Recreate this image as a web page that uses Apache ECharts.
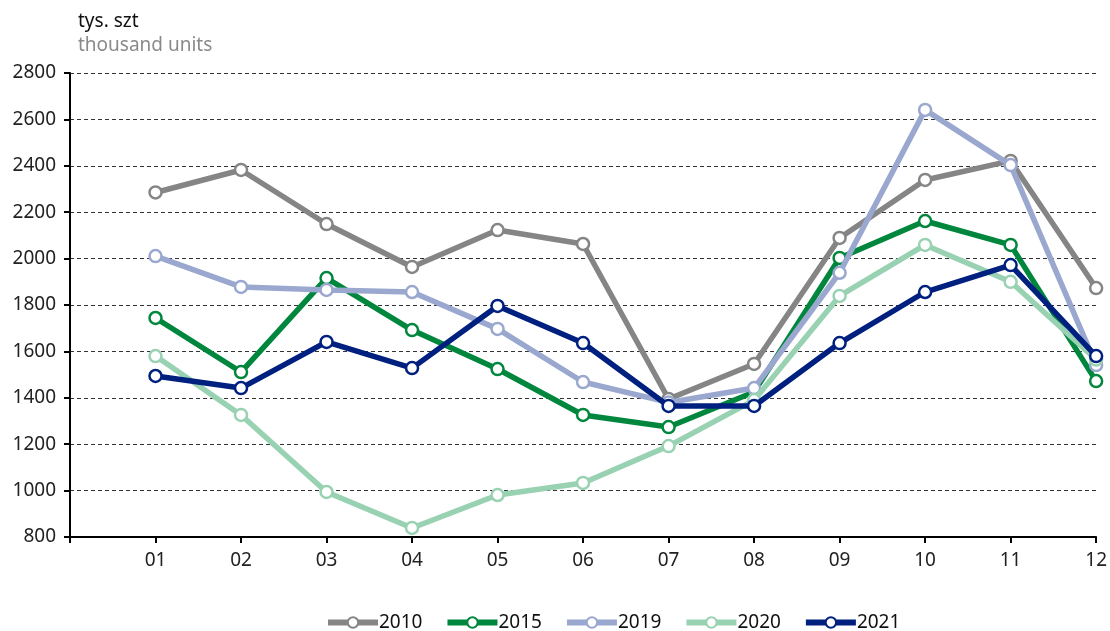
<!DOCTYPE html>
<html><head><meta charset="utf-8">
<script src="https://cdn.jsdelivr.net/npm/echarts@6/dist/echarts.min.js"></script>
<style>html,body{margin:0;padding:0;background:#fff}#c{width:1110px;height:631px}</style>
</head><body><div id="c"></div>
<script>
const months = ['', '01','02','03','04','05','06','07','08','09','10','11','12'];
const yTicks = [800,1000,1200,1400,1600,1800,2000,2200,2400,2600,2800];
const s2010 = [null, 2285, 2382, 2149, 1964, 2123, 2063, 1395, 1546, 2089, 2339, 2421, 1873];
const s2015 = [null, 1744, 1511, 1916, 1692, 1524, 1326, 1274, 1425, 2003, 2162, 2059, 1472];
const s2019 = [null, 2011, 1878, 1865, 1856, 1697, 1468, 1380, 1442, 1939, 2641, 2403, 1541];
const s2020 = [null, 1580, 1326, 994, 839, 981, 1033, 1192, 1390, 1839, 2059, 1900, 1565];
const s2021 = [null, 1494, 1442, 1641, 1528, 1796, 1636, 1365, 1365, 1636, 1856, 1972, 1580];
const names = ['2010','2015','2019','2020','2021'];
const colors = ['#858585','#00873D','#9AA8CF','#99D2B2','#00207F'];
const dataSets = [s2010, s2015, s2019, s2020, s2021];
const FONT = 'Noto Sans';
const chart = echarts.init(document.getElementById('c'));
chart.setOption({
  animation: false,
  textStyle: {fontFamily: FONT},
  graphic: [
    {type:'text', left: 78, top: 12, style:{text:'tys. szt', font:'19px "Noto Sans"', fill:'#111'}},
    {type:'text', left: 78, top: 36, style:{text:'thousand units', font:'19px "Noto Sans"', fill:'#8a8a8a'}}
  ],
  grid: {left: 70, right: 13, top: 73, bottom: 94, containLabel: false},
  legend: {
    top: 608, left: 320, itemWidth: 50, itemHeight: 13, itemGap: 22,
    lineStyle: {width: 6},
    textStyle: {fontFamily: FONT, fontSize: 19, color: '#111', padding:[0,0,0,-4]},
    data: names
  },
  xAxis: {
    type: 'category', data: months, boundaryGap: false,
    axisLine: {lineStyle: {color: '#000', width: 2}},
    axisTick: {show: true, length: 6, lineStyle: {color:'#000', width: 2}},
    axisLabel: {fontFamily: FONT, fontSize: 19, color: '#222', margin: 14},
    splitLine: {show: false}
  },
  yAxis: {
    type: 'value', min: yTicks[0], max: yTicks[yTicks.length-1], interval: 200,
    axisLine: {show: true, lineStyle: {color: '#000', width: 2}},
    axisTick: {show: true, length: 6, lineStyle: {color:'#000', width: 2}},
    axisLabel: {fontFamily: FONT, fontSize: 19, color: '#222', margin: 14, formatter: v => String(v)},
    splitLine: {show: true, lineStyle: {color: '#333', type: [4,3], width: 1}}
  },
  series: dataSets.map((d, i) => ({
    name: names[i], type: 'line', data: d,
    color: colors[i],
    lineStyle: {width: 5.5, color: colors[i]},
    symbol: 'circle', symbolSize: 12, showSymbol: true,
    itemStyle: {color: '#fff', borderColor: colors[i], borderWidth: 2.5},
    z: 2 + i
  }))
});
</script></body></html>
